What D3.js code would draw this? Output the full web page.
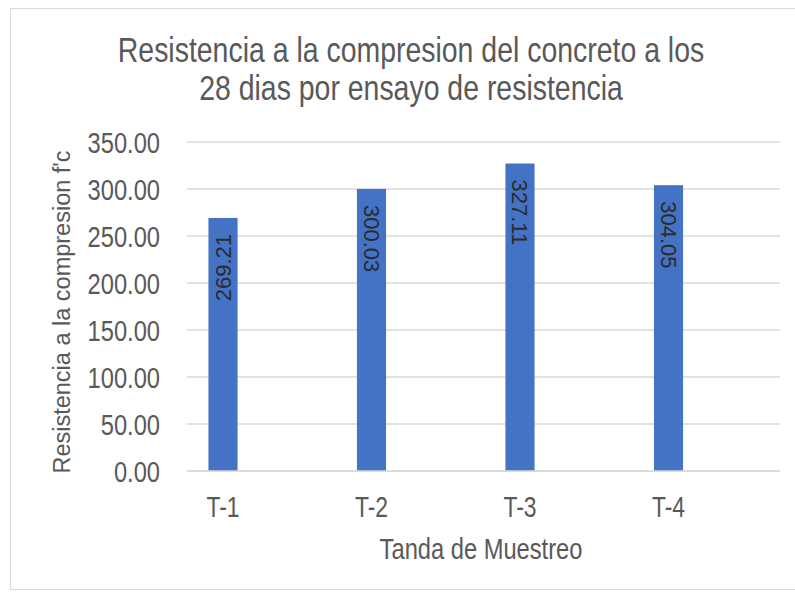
<!DOCTYPE html>
<html>
<head>
<meta charset="utf-8">
<script src="https://cdn.jsdelivr.net/npm/d3@7"></script>
<style>
  html, body { margin: 0; padding: 0; background: #ffffff; }
  svg { display: block; }
  text { font-family: "Liberation Sans", Arial, sans-serif; }
</style>
</head>
<body>
<svg id="chart" width="795" height="592"></svg>
<script>
// Sample batches and their 28-day compressive strength
const tandas = ["T-1", "T-2", "T-3", "T-4"];
const resistencia = [269.21, 300.03, 327.11, 304.05];
const yTicks = [0, 50, 100, 150, 200, 250, 300, 350];
const titleLines = ["Resistencia a la compresion del concreto a los", "28 dias  por ensayo de resistencia"];
const xTitle = "Tanda de Muestreo";
const yTitle = "Resistencia a la compresion f'c";

// label orientation per bar (degrees)
const labelTurn = [-90, 90, 90, 90];

// condensed look of horizontal lettering
const SQ = 0.79;

const svg = d3.select("#chart");

// chart frame
svg.append("rect")
  .attr("x", 10.5).attr("y", 8.5)
  .attr("width", 800).attr("height", 581)
  .attr("fill", "#ffffff")
  .attr("stroke", "#d9d9d9").attr("stroke-width", 1);

// plot area
const plotL = 187, plotR = 780;
const x = d3.scaleBand().domain(tandas).range([148.75, 742.75]);
const barW = x.bandwidth() * 0.196;
const y = d3.scaleLinear().domain([0, 350]).range([471, 142]);

// horizontal gridlines
svg.append("g")
  .selectAll("line")
  .data(yTicks)
  .join("line")
  .attr("x1", plotL).attr("x2", plotR)
  .attr("y1", d => y(d)).attr("y2", d => y(d))
  .attr("stroke", "#d9d9d9").attr("stroke-width", 1.6);

// y tick labels
svg.append("g")
  .selectAll("text")
  .data(yTicks)
  .join("text")
  .attr("transform", d => `translate(160,${y(d)}) scale(${SQ},1)`)
  .attr("text-anchor", "end")
  .attr("dy", "0.36em")
  .attr("fill", "#595959")
  .style("font-size", "30px")
  .text(d3.format(".2f"));

// bars
svg.append("g")
  .selectAll("rect")
  .data(tandas)
  .join("rect")
  .attr("x", d => x(d) + (x.bandwidth() - barW) / 2)
  .attr("width", barW)
  .attr("y", (d, i) => y(resistencia[i]))
  .attr("height", (d, i) => y(0) - y(resistencia[i]))
  .attr("fill", "#4472C4");

// x axis line
svg.append("line")
  .attr("x1", plotL).attr("x2", plotR)
  .attr("y1", y(0)).attr("y2", y(0))
  .attr("stroke", "#d9d9d9").attr("stroke-width", 1.6);

// value labels inside the top of each bar
svg.append("g")
  .selectAll("text")
  .data(tandas)
  .join("text")
  .attr("transform", (d, i) => {
    const cx = x(d) + x.bandwidth() / 2;
    const top = y(resistencia[i]) + 16;
    return `translate(${cx},${top}) rotate(${labelTurn[i]})`;
  })
  .attr("text-anchor", (d, i) => labelTurn[i] < 0 ? "end" : "start")
  .attr("dy", "0.36em")
  .attr("fill", "#2b2b2b")
  .style("font-size", "22px")
  .text((d, i) => resistencia[i].toFixed(2));

// x tick labels
svg.append("g")
  .selectAll("text")
  .data(tandas)
  .join("text")
  .attr("transform", d => `translate(${x(d) + x.bandwidth() / 2},517) scale(${SQ},1)`)
  .attr("text-anchor", "middle")
  .attr("fill", "#595959")
  .style("font-size", "29px")
  .text(d => d);

// axis titles
svg.append("text")
  .attr("transform", `translate(481,559) scale(${SQ},1)`)
  .attr("text-anchor", "middle")
  .attr("fill", "#595959")
  .style("font-size", "30px")
  .text(xTitle);

svg.append("text")
  .attr("transform", `translate(70,312) rotate(-90)`)
  .attr("text-anchor", "middle")
  .attr("fill", "#595959")
  .style("font-size", "23.5px")
  .text(yTitle);

// chart title
svg.append("g")
  .selectAll("text")
  .data(titleLines)
  .join("text")
  .attr("transform", (d, i) => `translate(411,${62 + i * 38}) scale(${SQ},1)`)
  .attr("text-anchor", "middle")
  .attr("fill", "#595959")
  .style("font-size", "36px")
  .text(d => d);
</script>
</body>
</html>
